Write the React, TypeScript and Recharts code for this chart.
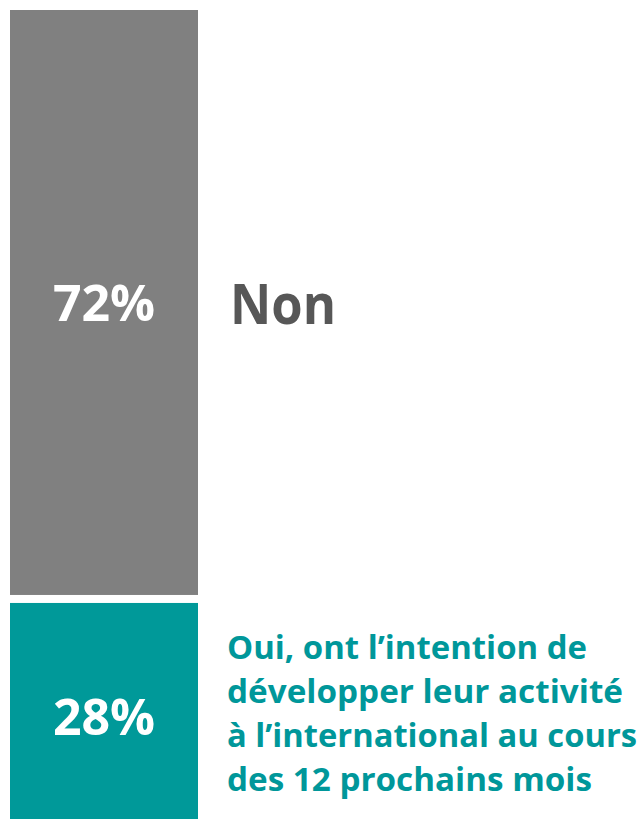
import React from 'react';
import { BarChart, Bar, XAxis, YAxis } from 'recharts';

const categories = ['Intention'];
const ouiValues = [28];
const nonValues = [72];
const nonLabel = ['Non'];
const ouiLines = [
  'Oui, ont l\u2019intention de',
  'développer leur activité',
  'à l\u2019international au cours',
  'des 12 prochains mois',
];
const ouiLineWidths = [360, 396, 410, 365];

const data = categories.map((name, i) => ({ name, oui: ouiValues[i], non: nonValues[i] }));

const GAP = 4;
const FONT = '"Open Sans", "Noto Sans", sans-serif';

const NonShape = (props: any) => {
  const { x, y, width, height, fill } = props;
  return <rect x={x} y={y} width={width} height={Math.max(0, height - GAP)} fill={fill} />;
};

const OuiShape = (props: any) => {
  const { x, y, width, height, fill } = props;
  return <rect x={x} y={y + GAP} width={width} height={Math.max(0, height - GAP)} fill={fill} />;
};

const NonLabel = (props: any) => {
  const { x, y, width, height, index } = props;
  const cy = y + (height - GAP) / 2;
  return (
    <g>
      <text x={x + width / 2} y={cy + 19} textAnchor="middle" fill="#fff"
        fontFamily={FONT} fontWeight={700} fontSize={50}>
        {`${nonValues[index ?? 0]}%`}
      </text>
      <text x={x + width + 32} y={cy + 22} fill="#575757"
        fontFamily={FONT} fontWeight={700} fontSize={56} textLength={106} lengthAdjust="spacingAndGlyphs">
        {nonLabel[0]}
      </text>
    </g>
  );
};

const OuiLabel = (props: any) => {
  const { x, y, width, index } = props;
  const top = y + GAP;
  return (
    <g>
      <text x={x + width / 2} y={top + 132} textAnchor="middle" fill="#fff"
        fontFamily={FONT} fontWeight={700} fontSize={50}>
        {`${ouiValues[index ?? 0]}%`}
      </text>
      {ouiLines.map((line, i) => (
        <text key={i} x={x + width + 29} y={top + 56 + i * 44} fill="#00979a"
          fontFamily={FONT} fontWeight={700} fontSize={33}
          textLength={ouiLineWidths[i]} lengthAdjust="spacingAndGlyphs">
          {line}
        </text>
      ))}
    </g>
  );
};

export default function App() {
  return (
    <div style={{ position: 'fixed', top: 0, left: 0, width: 643, height: 819, overflow: 'hidden', background: '#fff' }}>
      <BarChart width={643} height={828} data={data}
        margin={{ top: 10, right: 445, bottom: 0, left: 10 }} barCategoryGap={0}>
        <XAxis dataKey="name" hide />
        <YAxis hide domain={[0, 100]} />
        <Bar dataKey="oui" stackId="a" fill="#009999" shape={OuiShape} label={OuiLabel} isAnimationActive={false} />
        <Bar dataKey="non" stackId="a" fill="#808080" shape={NonShape} label={NonLabel} isAnimationActive={false} />
      </BarChart>
    </div>
  );
}
